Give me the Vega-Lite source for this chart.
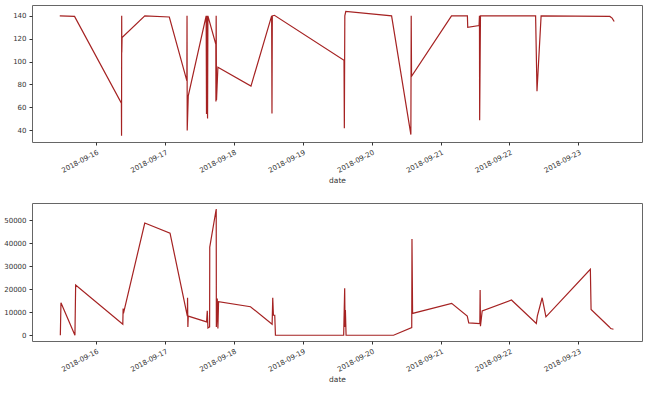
{
  "$schema": "https://vega.github.io/schema/vega-lite/v6.json",
  "background": "white",
  "padding": {"left": 3, "top": 4, "right": 0, "bottom": 0},
  "spacing": 17,
  "datasets": {
    "top": [
      {"date": "2018-09-15T11:25", "value": 140},
      {"date": "2018-09-15T16:34", "value": 139.5},
      {"date": "2018-09-16T08:53", "value": 63.5},
      {"date": "2018-09-16T08:56", "value": 35},
      {"date": "2018-09-16T08:59", "value": 140},
      {"date": "2018-09-16T09:01", "value": 108},
      {"date": "2018-09-16T09:07", "value": 121},
      {"date": "2018-09-16T17:02", "value": 140},
      {"date": "2018-09-17T01:34", "value": 139},
      {"date": "2018-09-17T07:41", "value": 83},
      {"date": "2018-09-17T07:44", "value": 140},
      {"date": "2018-09-17T07:48", "value": 39.5},
      {"date": "2018-09-17T08:10", "value": 70},
      {"date": "2018-09-17T14:24", "value": 140},
      {"date": "2018-09-17T14:31", "value": 54},
      {"date": "2018-09-17T14:38", "value": 140},
      {"date": "2018-09-17T14:53", "value": 50},
      {"date": "2018-09-17T15:00", "value": 140},
      {"date": "2018-09-17T17:46", "value": 115},
      {"date": "2018-09-17T17:48", "value": 65},
      {"date": "2018-09-17T17:53", "value": 140},
      {"date": "2018-09-17T18:00", "value": 66},
      {"date": "2018-09-17T18:29", "value": 95},
      {"date": "2018-09-18T06:00", "value": 78.5},
      {"date": "2018-09-18T13:12", "value": 140},
      {"date": "2018-09-18T13:19", "value": 54.5},
      {"date": "2018-09-18T13:26", "value": 140},
      {"date": "2018-09-18T14:10", "value": 140.5},
      {"date": "2018-09-19T14:24", "value": 101},
      {"date": "2018-09-19T14:31", "value": 41.5},
      {"date": "2018-09-19T14:41", "value": 140},
      {"date": "2018-09-19T15:01", "value": 144},
      {"date": "2018-09-20T06:58", "value": 140},
      {"date": "2018-09-20T13:41", "value": 36},
      {"date": "2018-09-20T13:48", "value": 140},
      {"date": "2018-09-20T13:55", "value": 87},
      {"date": "2018-09-21T03:50", "value": 140},
      {"date": "2018-09-21T09:22", "value": 140},
      {"date": "2018-09-21T09:29", "value": 130},
      {"date": "2018-09-21T13:26", "value": 131.5},
      {"date": "2018-09-21T13:34", "value": 140},
      {"date": "2018-09-21T13:38", "value": 48.5},
      {"date": "2018-09-21T13:55", "value": 140},
      {"date": "2018-09-22T09:07", "value": 140},
      {"date": "2018-09-22T09:36", "value": 74},
      {"date": "2018-09-22T11:02", "value": 140},
      {"date": "2018-09-23T10:58", "value": 139.5},
      {"date": "2018-09-23T11:46", "value": 138},
      {"date": "2018-09-23T12:29", "value": 135}
    ],
    "bottom": [
      {"date": "2018-09-15T11:37", "value": 0},
      {"date": "2018-09-15T11:50", "value": 14100},
      {"date": "2018-09-15T16:42", "value": 0},
      {"date": "2018-09-15T16:57", "value": 21850},
      {"date": "2018-09-16T09:22", "value": 4800},
      {"date": "2018-09-16T09:29", "value": 11650},
      {"date": "2018-09-16T09:36", "value": 9500},
      {"date": "2018-09-16T17:01", "value": 48800},
      {"date": "2018-09-17T01:49", "value": 44400},
      {"date": "2018-09-17T07:51", "value": 8300},
      {"date": "2018-09-17T07:55", "value": 16300},
      {"date": "2018-09-17T08:02", "value": 3600},
      {"date": "2018-09-17T08:10", "value": 8300},
      {"date": "2018-09-17T14:33", "value": 5800},
      {"date": "2018-09-17T14:47", "value": 10600},
      {"date": "2018-09-17T15:01", "value": 3200},
      {"date": "2018-09-17T15:36", "value": 3600},
      {"date": "2018-09-17T15:39", "value": 38300},
      {"date": "2018-09-17T17:54", "value": 54900},
      {"date": "2018-09-17T17:57", "value": 3600},
      {"date": "2018-09-17T18:16", "value": 16000},
      {"date": "2018-09-17T18:29", "value": 2900},
      {"date": "2018-09-17T18:43", "value": 14600},
      {"date": "2018-09-18T05:50", "value": 12400},
      {"date": "2018-09-18T13:22", "value": 4800},
      {"date": "2018-09-18T13:35", "value": 16300},
      {"date": "2018-09-18T13:49", "value": 8700},
      {"date": "2018-09-18T14:17", "value": 8700},
      {"date": "2018-09-18T14:31", "value": 0},
      {"date": "2018-09-19T14:17", "value": 0},
      {"date": "2018-09-19T14:38", "value": 20400},
      {"date": "2018-09-19T14:46", "value": 3600},
      {"date": "2018-09-19T14:53", "value": 11000},
      {"date": "2018-09-19T15:07", "value": 0},
      {"date": "2018-09-20T07:38", "value": 0},
      {"date": "2018-09-20T13:59", "value": 3350},
      {"date": "2018-09-20T14:04", "value": 41800},
      {"date": "2018-09-20T14:17", "value": 9500},
      {"date": "2018-09-21T03:53", "value": 13850},
      {"date": "2018-09-21T09:19", "value": 8300},
      {"date": "2018-09-21T09:50", "value": 5400},
      {"date": "2018-09-21T13:42", "value": 5100},
      {"date": "2018-09-21T13:48", "value": 19700},
      {"date": "2018-09-21T13:55", "value": 3900},
      {"date": "2018-09-21T14:31", "value": 10600},
      {"date": "2018-09-22T00:43", "value": 15300},
      {"date": "2018-09-22T09:22", "value": 5100},
      {"date": "2018-09-22T09:43", "value": 8300},
      {"date": "2018-09-22T11:24", "value": 16300},
      {"date": "2018-09-22T12:43", "value": 8000},
      {"date": "2018-09-23T04:11", "value": 28700},
      {"date": "2018-09-23T04:26", "value": 11200},
      {"date": "2018-09-23T10:48", "value": 3600},
      {"date": "2018-09-23T11:17", "value": 2900},
      {"date": "2018-09-23T12:14", "value": 2600}
    ]
  },
  "config": {
    "view": {"stroke": "#666", "strokeWidth": 1},
    "axis": {
      "labelFont": "DejaVu Sans",
      "labelFontSize": 7,
      "labelColor": "#333",
      "labelPadding": 3,
      "tickColor": "#333",
      "tickSize": 3,
      "domain": false,
      "grid": false,
      "titleFont": "DejaVu Sans",
      "titleFontSize": 7.5,
      "titleFontWeight": "normal",
      "titleColor": "#333"
    }
  },
  "vconcat": [
    {
      "width": 610,
      "height": 137,
      "data": {"name": "top"},
      "mark": {"type": "line", "color": "#a52222", "strokeWidth": 1.2},
      "encoding": {
        "x": {
          "field": "date",
          "type": "temporal",
          "title": "date",
          "scale": {"domain": [
            {"year": 2018, "month": 9, "date": 15, "hours": 1, "minutes": 45},
            {"year": 2018, "month": 9, "date": 23, "hours": 22, "minutes": 10}
          ]},
          "axis": {"format": "%Y-%m-%d", "tickCount": {"interval": "day", "step": 1}, "labelAngle": -28, "labelAlign": "right", "labelBaseline": "top", "titlePadding": 3}
        },
        "y": {
          "field": "value",
          "type": "quantitative",
          "title": null,
          "scale": {"domain": [29.5, 149.5], "nice": false, "zero": false},
          "axis": {"values": [40, 60, 80, 100, 120, 140], "format": "d"}
        }
      }
    },
    {
      "width": 610,
      "height": 138,
      "data": {"name": "bottom"},
      "mark": {"type": "line", "color": "#a52222", "strokeWidth": 1.2},
      "encoding": {
        "x": {
          "field": "date",
          "type": "temporal",
          "title": "date",
          "scale": {"domain": [
            {"year": 2018, "month": 9, "date": 15, "hours": 1, "minutes": 45},
            {"year": 2018, "month": 9, "date": 23, "hours": 22, "minutes": 10}
          ]},
          "axis": {"format": "%Y-%m-%d", "tickCount": {"interval": "day", "step": 1}, "labelAngle": -28, "labelAlign": "right", "labelBaseline": "top", "titlePadding": 3}
        },
        "y": {
          "field": "value",
          "type": "quantitative",
          "title": null,
          "scale": {"domain": [-2500, 57500], "nice": false, "zero": false},
          "axis": {"values": [0, 10000, 20000, 30000, 40000, 50000], "format": "d"}
        }
      }
    }
  ]
}
